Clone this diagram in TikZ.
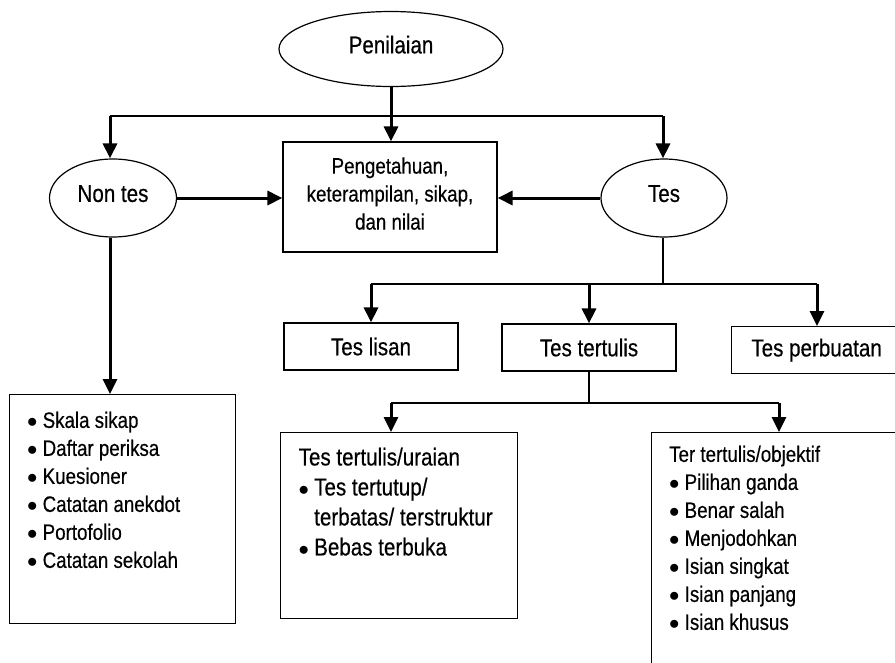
\documentclass[tikz,border=0pt]{standalone}
\usepackage{fontspec}
\setmainfont{Liberation Sans}[FakeStretch=0.84, FakeBold=0.4]
\usepackage{tikz}
\usetikzlibrary{shapes,arrows,positioning,calc,arrows.meta}

\newcommand{\fntbig}{\fontsize{24.5}{30}\selectfont}
\newcommand{\fntsmall}{\fontsize{22.3}{28}\selectfont}
\newcommand{\itembul}{\makebox[15.5pt][l]{\fontsize{21}{28}\selectfont$\bullet$}}
\newcommand{\itemgap}{\makebox[15.5pt][l]{}}

\begin{document}
\begin{tikzpicture}[
    x=1pt, y=-1pt,
    font=\fntbig,
    block/.style={rectangle, draw, line width=1.2pt, align=center},
    oval/.style={ellipse, draw, line width=1.2pt, text depth=9pt},
    items/.style={align=left, inner sep=0pt, anchor=north west},
    arr/.style={line width=3pt, -{Triangle[width=14pt,length=15pt]}},
    bus/.style={line width=1.3pt}
]
    \useasboundingbox (0,0) rectangle (895,662);
    \clip (0,0) rectangle (895,662);

    % Top level
    \node[oval, minimum width=224pt, minimum height=75pt] (Pen) at (391,49) {Penilaian};
    \node[oval, minimum width=127pt, minimum height=78pt] (NonTes) at (113,198) {Non tes};
    \node[oval, minimum width=126pt, minimum height=78pt] (Tes) at (664,198) {Tes};
    \node[block, font=\fntsmall, text depth=7pt, minimum width=214pt, minimum height=110pt] (PKS) at (390,197)
        {Pengetahuan,\\keterampilan, sikap,\\dan nilai};

    % Kinds of tes
    \node[block, minimum width=174pt, minimum height=47pt] (Lisan) at (371,346.5) {Tes lisan};
    \node[block, minimum width=174pt, minimum height=47pt] (Tulis) at (589,347.5) {Tes tertulis};
    \node[block, minimum width=170pt, minimum height=47pt, anchor=north west] (Buat) at (731,326) {Tes perbuatan};

    % List boxes
    \node[block, minimum width=226pt, minimum height=229pt, anchor=north west] (NTList) at (9,394) {};
    \node[block, minimum width=237pt, minimum height=186pt, anchor=north west] (Uraian) at (280,432) {};
    \node[block, minimum width=270pt, minimum height=270pt, anchor=north west] (Objektif) at (651,432) {};

    \node[items, font=\fntsmall, below right=17.5pt and 18pt of NTList.north west] (NTItems)
        {\itembul Skala sikap\\ \itembul Daftar periksa\\ \itembul Kuesioner\\
         \itembul Catatan anekdot\\ \itembul Portofolio\\ \itembul Catatan sekolah};
    \node[items, font=\fntbig, below right=15.5pt and 18.5pt of Uraian.north west] (UrItems)
        {Tes tertulis/uraian\\ \itembul Tes tertutup/\\ \itemgap terbatas/ terstruktur\\
         \itembul Bebas terbuka};
    \node[items, font=\fntsmall, below right=13.5pt and 18pt of Objektif.north west] (ObItems)
        {Ter tertulis/objektif\\ \itembul Pilihan ganda\\ \itembul Benar salah\\
         \itembul Menjodohkan\\ \itembul Isian singkat\\ \itembul Isian panjang\\
         \itembul Isian khusus};

    % Penilaian branches
    \coordinate (B1L) at (110,116);
    \coordinate (B1R) at (663,116);
    \draw[bus] (B1L) -- (B1R);
    \draw[arr] (Pen.south) -- (Pen.south |- PKS.north);
    \draw[arr] (B1L) -- (B1L |- NonTes.north);
    \draw[arr] (B1R) -- (B1R |- Tes.north);
    \draw[arr] (NonTes.east) -- (NonTes.east -| PKS.west);
    \draw[arr] (Tes.west) -- (Tes.west -| PKS.east);
    \draw[arr] (B1L |- NonTes.south) -- (B1L |- NTList.north);

    % Tes branches
    \coordinate (B2L) at (371,284);
    \coordinate (B2R) at (817,284);
    \draw[bus] (B1R |- Tes.south) -- (B1R |- B2L);
    \draw[bus] (B2L) -- (B2R);
    \draw[arr] (B2L) -- (B2L |- Lisan.north);
    \draw[arr] (Tulis.north |- B2L) -- (Tulis.north);
    \draw[arr] (B2R) -- (B2R |- Buat.north);

    % Tes tertulis branches
    \coordinate (B3L) at (391,403);
    \coordinate (B3R) at (779,403);
    \draw[bus] (Tulis.south) -- (Tulis.south |- B3L);
    \draw[bus] (B3L) -- (B3R);
    \draw[arr] (B3L) -- (B3L |- Uraian.north);
    \draw[arr] (B3R) -- (B3R |- Objektif.north);

\end{tikzpicture}
\end{document}
